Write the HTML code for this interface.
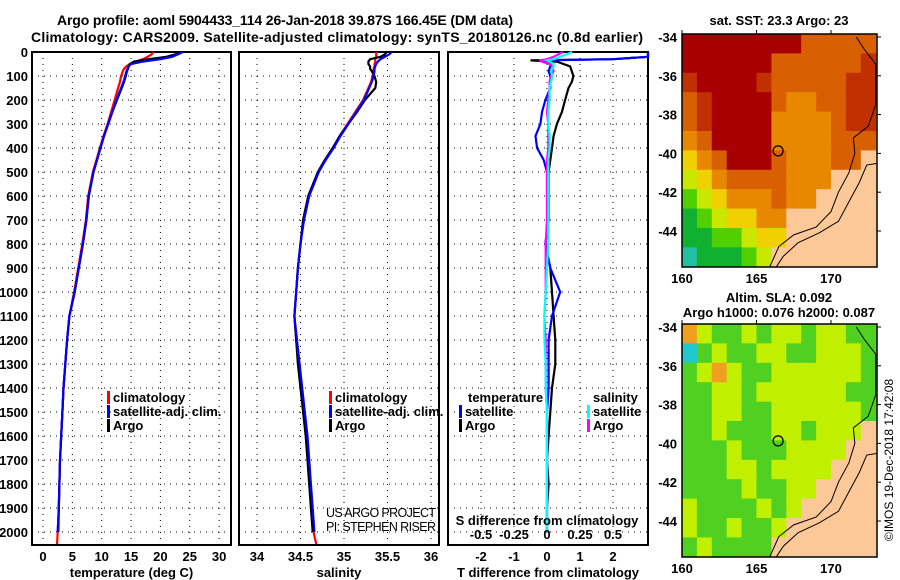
<!DOCTYPE html>
<html><head><meta charset="utf-8">
<style>
body{margin:0;background:#fff;}
svg{display:block;font-family:"Liberation Sans",sans-serif;}
.t{font-weight:bold;font-size:13px;}
.ti{font-weight:bold;font-size:14px;}
</style></head>
<body>
<svg id="c" width="900" height="580" viewBox="0 0 900 580" xmlns="http://www.w3.org/2000/svg">
<text class="ti" x="285" y="25" text-anchor="middle" textLength="456">Argo profile: aoml 5904433_114 26-Jan-2018 39.87S 166.45E (DM data)</text>
<text class="ti" x="337" y="42" text-anchor="middle" textLength="612">Climatology: CARS2009. Satellite-adjusted climatology: synTS_20180126.nc (0.8d earlier)</text>
<g id="p1"></g>
<g id="p2"></g>
<g id="p3"></g>
<g id="m1"></g>
<g id="m2"></g>
<text x="893" y="460" font-size="12" transform="rotate(-90 893 460)" text-anchor="middle">©IMOS 19-Dec-2018 17:42:08</text>
</svg>
<script>
// ---- data ----
const depthsTS = [0,10,20,30,40,50,60,70,80,100,125,150,200,250,300,350,400,450,500,600,700,800,900,1000,1100,1200,1300,1400,1500,1600,1700,1800,1900,2000,2050];
const tempArgo = [23.5,22.5,21,18,15.5,14.8,14.6,14.5,14.3,14.1,13.8,13.4,12.6,11.8,11.1,10.4,9.8,9.2,8.6,7.8,7.4,6.8,6.1,5.4,4.5,4.1,3.8,3.5,3.3,3.1,2.9,2.8,2.7,2.6];
const tempClim = [18.8,18.5,17.8,17,15.8,14.8,14.2,13.8,13.6,13.3,13.1,12.8,12.2,11.6,11.0,10.3,9.7,9.1,8.5,7.7,7.3,6.7,6.0,5.3,4.5,4.1,3.8,3.5,3.3,3.1,2.9,2.8,2.7,2.5,2.4];
const tempSat  = [23.8,23,22,20,17,15,14.6,14.4,14.2,14,13.7,13.3,12.5,11.8,11.1,10.4,9.8,9.2,8.6,7.8,7.4,6.8,6.1,5.4,4.5,4.1,3.8,3.5,3.3,3.1,2.9,2.8,2.7,2.5];
const salArgo = [35.49,35.47,35.42,35.3,35.28,35.28,35.3,35.3,35.32,35.35,35.37,35.36,35.24,35.15,35.05,34.95,34.87,34.78,34.7,34.59,34.53,34.5,34.47,34.45,34.43,34.45,34.47,34.5,34.53,34.56,34.58,34.6,34.62,34.64];
const salClim = [35.37,35.37,35.37,35.36,35.36,35.35,35.35,35.34,35.34,35.33,35.31,35.28,35.22,35.13,35.04,34.95,34.87,34.78,34.7,34.59,34.53,34.5,34.47,34.45,34.43,34.45,34.48,34.51,34.54,34.57,34.59,34.61,34.63,34.65,34.68];
const salSat  = [35.55,35.52,35.47,35.42,35.39,35.37,35.36,35.35,35.35,35.34,35.32,35.29,35.23,35.14,35.05,34.96,34.88,34.79,34.71,34.6,34.54,34.5,34.47,34.45,34.43,34.46,34.49,34.52,34.55,34.58,34.6,34.62,34.64,34.66];
const depthsDiff = [0,20,30,35,40,50,60,80,100,125,150,200,250,300,350,400,450,500,600,700,800,900,1000,1100,1200,1300,1400,1500,1600,1700,1800,1900,2000];
const dTArgo = [5,4,2,-0.5,0.3,0.5,0.7,0.75,0.8,0.75,0.65,0.55,0.45,0.3,0.2,0.15,0.1,0.05,0.05,0.05,-0.05,0.1,0.15,0.2,0.25,0.25,0.15,0.1,0.05,0,0.05,0,0];
const dTSat  = [5,4,2,-0.2,0,0.1,0.1,0.05,0.1,0.1,0.1,-0.05,-0.15,-0.2,-0.35,-0.3,-0.1,0,0,0.05,-0.05,0.1,0.4,0.15,0.05,0.05,0.05,0,0,0,0,0,0];
const dSSat  = [0.19,0.1,0.05,0,0.02,0.05,0.05,0.03,0.04,0.03,0.02,0.02,0.01,0.01,0.02,0.02,0.01,0.01,0.01,0.01,0.01,0,-0.01,-0.02,-0.02,-0.01,-0.01,0,0,0,0,0,0];
const dSArgo = [0.12,0.05,0,-0.05,-0.04,0.02,0.04,0.05,0.03,0.02,0.02,0.01,0,0.01,0.01,0.01,0,0,0,0,-0.01,-0.01,-0.01,-0.02,-0.01,-0.01,-0.01,0,0,0,0,0,0];
const tTicks = [0,5,10,15,20,25,30];
const sTicks = [34,34.5,35,35.5,36];
const dTTicks = [-2,-1,0,1,2];
const dSTicks = [-0.5,-0.25,0,0.25,0.5];
const depthTicks = [0,100,200,300,400,500,600,700,800,900,1000,1100,1200,1300,1400,1500,1600,1700,1800,1900,2000];
const latTicks = [-34,-36,-38,-40,-42,-44];
const lonTicks = [160,165,170];
const floatLon = 166.45, floatLat = -39.87;

const NS="http://www.w3.org/2000/svg";
function mk(parent,tag,attrs,text){const e=document.createElementNS(NS,tag);for(const k in attrs)e.setAttribute(k,attrs[k]);if(text!==undefined)e.textContent=text;parent.appendChild(e);return e;}
const yD = d => 52 + d*0.24;
const TOP=52,BOT=545;

function panel(g,x0,x1,xf,ticks,fmt,title,name){
  depthTicks.forEach(d=>{ if(d>0){const l=mk(g,'line',{x1:x0,x2:x1,y1:yD(d),y2:yD(d),stroke:'#000','stroke-dasharray':'1 5'});
    
    }});
  ticks.forEach(v=>{const x=xf(v);const l=mk(g,'line',{x1:x,x2:x,y1:TOP,y2:BOT,stroke:'#000','stroke-dasharray':'1 5'});
    
    
    const t=mk(g,'text',{x:x,y:561,'text-anchor':'middle',class:'t'},fmt(v));
    
    });
  const r=mk(g,'rect',{x:x0,y:TOP,width:x1-x0,height:BOT-TOP,fill:'none',stroke:'#000','stroke-width':2});
  
  
  if(title){const t=mk(g,'text',{x:(x0+x1)/2,y:577,'text-anchor':'middle',class:'t'},title);
    
    }
}
function line(g,xs,ds,xf,col,name,xmax){
  let pts=[];for(let i=0;i<xs.length&&i<ds.length;i++){let x=xf(xs[i]);if(xmax!==undefined)x=Math.min(x,xmax);pts.push(x.toFixed(1)+','+yD(ds[i]).toFixed(1));}
  const p=mk(g,'polyline',{points:pts.join(' '),fill:'none',stroke:col,'stroke-width':2.2});
  
  
}
function legend(g,x,y,col,label,name){
  const r=mk(g,'rect',{x:x,y:y-11,width:3,height:13,fill:col});
  
  
  const t=mk(g,'text',{x:x+6,y:y,class:'t'},label);
  
  
}
const svg=document.getElementById('c');
depthTicks.forEach(d=>{const t=mk(svg,'text',{x:28,y:yD(d)+5,'text-anchor':'end',class:'t'},String(d));
  
  });

const p1=document.getElementById('p1');
const xT=v=>43+v*5.87;
panel(p1,32,231,xT,tTicks,String,'temperature (deg C)','temperature');
line(p1,tempClim,depthsTS,xT,'#f00','temp-climatology-line');
line(p1,tempArgo,depthsTS,xT,'#000','temp-argo-line');
line(p1,tempSat,depthsTS,xT,'#00f','temp-satellite-line');
legend(p1,107,402,'#f00','climatology','legend-climatology');
legend(p1,107,416,'#00f','satellite-adj. clim.','legend-satellite-adj');
legend(p1,107,430,'#000','Argo','legend-argo');

const p2=document.getElementById('p2');
const xS=v=>257+(v-34)*87;
panel(p2,239,439,xS,sTicks,String,'salinity','salinity');
line(p2,salClim,depthsTS,xS,'#f00','sal-climatology-line');
line(p2,salArgo,depthsTS,xS,'#000','sal-argo-line');
line(p2,salSat,depthsTS,xS,'#00f','sal-satellite-line');
legend(p2,329,402,'#f00','climatology','legend-climatology');
legend(p2,329,416,'#00f','satellite-adj. clim.','legend-satellite-adj');
legend(p2,329,430,'#000','Argo','legend-argo');
[['US ARGO PROJECT',517],['PI: STEPHEN RISER',531]].forEach(a=>{const t=mk(p2,'text',{x:326,y:a[1],'font-size':'12.5','textLength':110},a[0]);
  
  });

const p3=document.getElementById('p3');
const xDT=v=>547+v*33;
const xDS=v=>547+v*132;
panel(p3,448,648,xDT,dTTicks,String,'T difference from climatology','difference');
line(p3,dTArgo,depthsDiff,xDT,'#000','dT-argo-line',648);
line(p3,dTSat,depthsDiff,xDT,'#00f','dT-satellite-line',648);
line(p3,dSArgo,depthsDiff,xDS,'#f0f','dS-argo-line',648);
line(p3,dSSat,depthsDiff,xDS,'#0ff','dS-satellite-line',648);
dSTicks.forEach(v=>{const t=mk(p3,'text',{x:xDS(v),y:539,'text-anchor':'middle',class:'t'},String(v));
  
  });
{const t=mk(p3,'text',{x:547,y:525,'text-anchor':'middle',class:'t'},'S difference from climatology');
  
  }
{const t=mk(p3,'text',{x:468,y:402,class:'t'},'temperature');
  
  }
legend(p3,459,416,'#00f','satellite','legend-t-satellite');
legend(p3,459,430,'#000','Argo','legend-t-argo');
{const t=mk(p3,'text',{x:593,y:402,class:'t'},'salinity');
  
  }
legend(p3,587,416,'#0ff','satellite','legend-s-satellite');
legend(p3,587,430,'#f0f','Argo','legend-s-argo');

const sstGrid=[
"RRRRRRRROOOOO",
"RRRRRROOOOOOr",
"rRRRRrOOOOOrr",
"OrRRRROooOOrr",
"OrRRRRooooOrr",
"oORRRRooooOOO",
"YoORRROoooOOL",
"yYoOOOOoooLLL",
"GyYoooOooLLLL",
"gGyYYooLLLLLY",
"ggGGyYYLLLLGC",
"CgggGyLLLLLGC"];
const sstCol={R:'#a80000',r:'#c03000',O:'#d86000',o:'#e88800',Y:'#f0d000',y:'#c8e800',G:'#50d000',g:'#10b030',C:'#20c0a0',L:'#fcc898'};
const slaGrid=[
"OyGGyGyyGyyGG",
"CGyGGyyGGyyyG",
"GyOyGGyyyyyyG",
"GGyyGyyyyyyGG",
"GGyyGGyyyyyyG",
"GGyGGGyyGyyyL",
"GGGyGGGyyyyLL",
"GGGyyGyyyyLLL",
"GGGGyGGyyLLLL",
"yGGGGyGyLLLLG",
"yGGyGGyLLLLLG",
"GyGGGGLLLLLGG"];
const slaCol={O:'#f0a020',y:'#c0f000',G:'#50d020',C:'#20c8d0',L:'#fcc898'};
const land=[[173.2,-40.5],[172.4,-40.6],[171.9,-41.5],[171.2,-42.5],[170.5,-43.5],[169.2,-44.1],[167.8,-44.6],[166.8,-45.3],[166.2,-46],[173.2,-46]];
const coast=[[171.7,-34],[172.2,-34.6],[173,-35.4],[173,-37.5],[172.5,-38.6],[171.5,-39.2],[171.6,-40],[171.2,-41],[170.5,-42],[170,-43],[169,-43.8],[167.5,-44.2],[166.5,-44.8],[165.8,-46]];
function map(gid,y0,grid,cols,title,titleY){
  const g=document.getElementById(gid);
  const X0=682,X1=877,Y1=y0+233;
  const xL=lon=>682+(lon-160)*14.9, yL=lat=>(y0+3)+(-34-lat)*19.4;
  grid.forEach((row,i)=>{[...row].forEach((ch,j)=>{const r=mk(g,'rect',{x:xL(160+j),y:yL(-34-i)-3,width:15.5,height:20,fill:cols[ch]});
    
    });});
  const poly=mk(g,'polygon',{points:land.map(p=>xL(p[0])+','+yL(p[1])).join(' '),fill:'#fcc898',stroke:'#000','stroke-width':1});
  
  
  const cl=mk(g,'polyline',{points:coast.map(p=>xL(p[0])+','+yL(p[1])).join(' '),fill:'none',stroke:'#000','stroke-width':1});
  
  
  mk(g,'path',{d:`M${X0-30},${y0-10}H${X1+10}V${Y1+30}H${X0-30}Z M${X0},${y0}V${Y1}H${X1}V${y0}Z`,fill:'#fff','fill-rule':'evenodd'});
  const fr=mk(g,'rect',{x:X0,y:y0,width:X1-X0,height:Y1-y0,fill:'none',stroke:'#000','stroke-width':1.5});
  
  
  const c=mk(g,'circle',{cx:xL(floatLon),cy:yL(floatLat),r:5,fill:'none',stroke:'#000','stroke-width':1.2});
  
  
  latTicks.forEach(l=>{const t=mk(g,'text',{x:X0-5,y:yL(l)+5,'text-anchor':'end',class:'t'},String(l));
    
    
    mk(g,'line',{x1:X1,x2:X1+4,y1:yL(l),y2:yL(l),stroke:'#000'});});
  lonTicks.forEach(l=>{const t=mk(g,'text',{x:xL(l),y:Y1+16,'text-anchor':'middle',class:'t'},String(l));
    
    
    mk(g,'line',{x1:xL(l),x2:xL(l),y1:y0,y2:y0-4,stroke:'#000'});});
  title.forEach((s,i)=>{const t=mk(g,'text',{x:779,y:titleY+i*15,'text-anchor':'middle',class:'t'},s);
    
    });
}
map('m1',34,sstGrid,sstCol,['sat. SST: 23.3 Argo: 23'],25);
map('m2',324,slaGrid,slaCol,['Altim. SLA: 0.092','Argo h1000: 0.076 h2000: 0.087'],302);
</script>
</body></html>
